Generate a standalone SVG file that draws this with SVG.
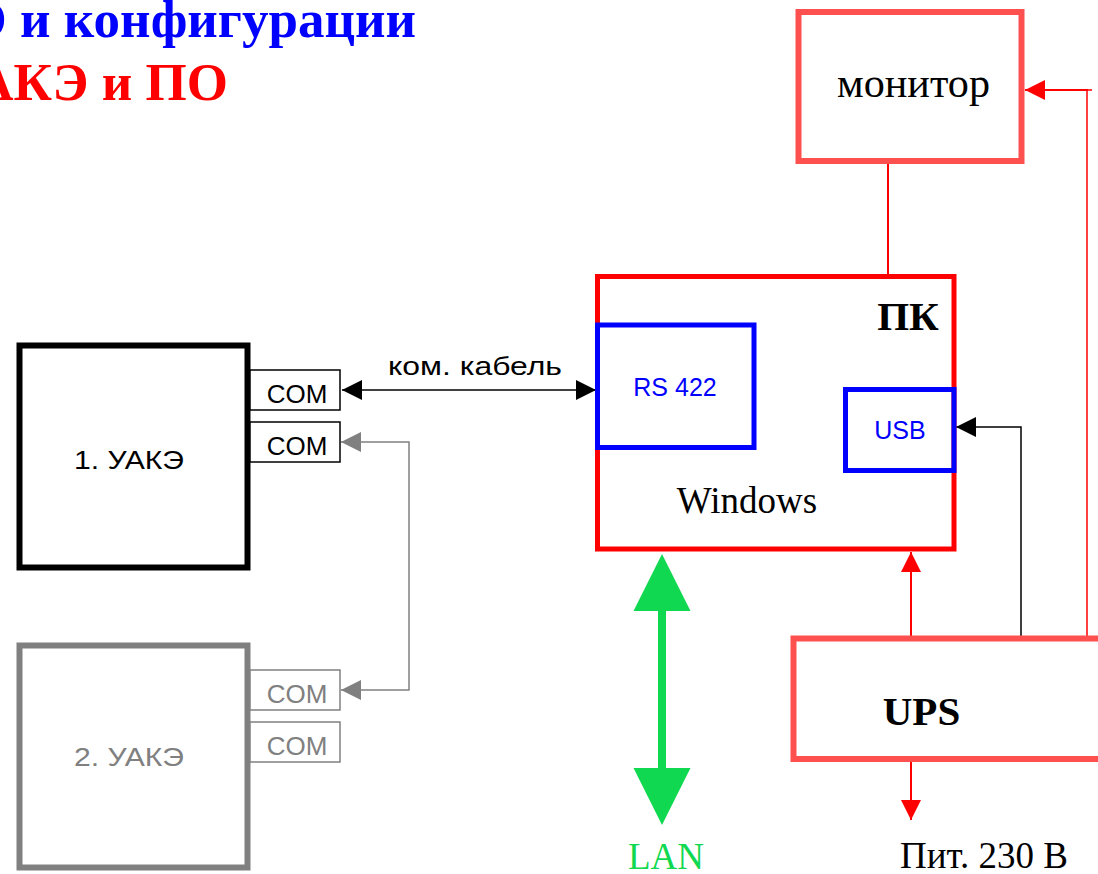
<svg xmlns="http://www.w3.org/2000/svg" width="1098" height="874" viewBox="0 0 1098 874">
<style>
.serif{font-family:"Liberation Serif","Times New Roman",serif}
.sans{font-family:"Liberation Sans",Arial,sans-serif}
.thin{fill:none;stroke-width:1.5}
</style>
<defs>
<marker id="ab" viewBox="0 0 20 20" refX="20" refY="10" markerWidth="20" markerHeight="20" markerUnits="userSpaceOnUse" orient="auto-start-reverse"><path d="M0,0 L20,10 L0,20 Z" fill="#000"/></marker>
<marker id="ag" viewBox="0 0 20 20" refX="20" refY="10" markerWidth="20" markerHeight="20" markerUnits="userSpaceOnUse" orient="auto-start-reverse"><path d="M0,0 L20,10 L0,20 Z" fill="#808080"/></marker>
<marker id="ar" viewBox="0 0 20 20" refX="20" refY="10" markerWidth="20" markerHeight="20" markerUnits="userSpaceOnUse" orient="auto-start-reverse"><path d="M0,0 L20,10 L0,20 Z" fill="#FF0000"/></marker>
</defs>
<rect width="1098" height="874" fill="#fff"/>

<g id="title" class="serif" font-weight="bold" font-size="53" text-anchor="end">
<text x="416" y="37" fill="#0000FF">О и конфигурации</text>
<text x="228" y="100" fill="#FF0000">АКЭ и ПО</text>
</g>

<g id="connectors">
<line x1="888" y1="164" x2="888" y2="275" stroke="#FF0000" stroke-width="2"/>
<polyline class="thin" points="1087,636 1087,90 1092,90" stroke="#FF0000" stroke-width="2"/>
<line x1="1088" y1="90" x2="1025" y2="90" stroke="#FF0000" stroke-width="2" marker-end="url(#ar)"/>
<line x1="342" y1="390" x2="596" y2="390" stroke="#000" stroke-width="1.5" marker-start="url(#ab)" marker-end="url(#ab)"/>
<polyline class="thin" points="341,442 409,442 409,690 341,690" stroke="#808080" marker-start="url(#ag)" marker-end="url(#ag)"/>
<polyline class="thin" points="1021,636 1021,427 956,427" stroke="#000" marker-end="url(#ab)"/>
<line x1="911" y1="636" x2="911" y2="552" stroke="#FF0000" stroke-width="2" marker-end="url(#ar)"/>
<line x1="911" y1="762" x2="911" y2="820" stroke="#FF0000" stroke-width="2" marker-end="url(#ar)"/>
<line x1="662" y1="600" x2="662" y2="780" stroke="#10D850" stroke-width="8"/>
<path d="M662,554 L690.5,611 L633.5,611 Z" fill="#10D850"/>
<path d="M662,825 L690.5,768 L633.5,768 Z" fill="#10D850"/>
<text class="sans" x="388" y="375" font-size="26" textLength="174" lengthAdjust="spacingAndGlyphs">ком. кабель</text>
</g>

<g id="monitor">
<rect x="798.5" y="12" width="223" height="149" fill="none" stroke="#FF5050" stroke-width="6"/>
<text class="serif" x="837" y="97" font-size="42" textLength="153" lengthAdjust="spacingAndGlyphs">монитор</text>
</g>

<g id="pc">
<rect x="597.5" y="276.5" width="356.5" height="272.5" fill="none" stroke="#FF0000" stroke-width="5"/>
<text class="serif" x="908" y="330" font-size="41" font-weight="bold" text-anchor="middle">ПК</text>
<text class="serif" x="747" y="513" font-size="37" text-anchor="middle">Windows</text>
</g>

<g id="rs422">
<rect x="597.5" y="325" width="156.5" height="122.5" fill="none" stroke="#0000FF" stroke-width="5"/>
<text class="sans" x="675" y="396" font-size="25" fill="#0000FF" text-anchor="middle">RS 422</text>
</g>

<g id="usb">
<rect x="845.5" y="389.5" width="108.5" height="81" fill="none" stroke="#0000FF" stroke-width="5"/>
<text class="sans" x="900" y="439" font-size="25" fill="#0000FF" text-anchor="middle">USB</text>
</g>

<g id="ups">
<rect x="793.5" y="638.5" width="330" height="120.5" fill="none" stroke="#FF5050" stroke-width="6"/>
<text class="serif" x="921.5" y="725" font-size="41" font-weight="bold" text-anchor="middle">UPS</text>
</g>

<g id="uake1">
<rect x="19.5" y="345.5" width="228" height="222" fill="none" stroke="#000" stroke-width="6"/>
<text class="sans" x="74" y="469" font-size="26" textLength="110" lengthAdjust="spacingAndGlyphs">1. УАКЭ</text>
</g>
<g id="com1">
<rect x="250" y="370" width="90" height="40" fill="#fff" stroke="#000" stroke-width="1.5"/>
<text class="sans" x="297" y="403" font-size="26" text-anchor="middle">COM</text>
</g>
<g id="com2">
<rect x="250" y="422" width="90" height="40" fill="#fff" stroke="#000" stroke-width="1.5"/>
<text class="sans" x="297" y="455" font-size="26" text-anchor="middle">COM</text>
</g>

<g id="uake2">
<rect x="19.5" y="645.5" width="228" height="222" fill="none" stroke="#808080" stroke-width="6"/>
<text class="sans" x="74" y="766" font-size="26" fill="#808080" textLength="110" lengthAdjust="spacingAndGlyphs">2. УАКЭ</text>
</g>
<g id="com3">
<rect x="250" y="670" width="90" height="40" fill="#fff" stroke="#808080" stroke-width="1.5"/>
<text class="sans" x="297" y="703" font-size="26" fill="#808080" text-anchor="middle">COM</text>
</g>
<g id="com4">
<rect x="250" y="722" width="90" height="40" fill="#fff" stroke="#808080" stroke-width="1.5"/>
<text class="sans" x="297" y="755" font-size="26" fill="#808080" text-anchor="middle">COM</text>
</g>

<g id="lan">
<text class="serif" x="666" y="869" font-size="37" fill="#10D850" text-anchor="middle">LAN</text>
</g>
<g id="power">
<text class="serif" x="984" y="868" font-size="37" text-anchor="middle">Пит. 230 В</text>
</g>
</svg>
